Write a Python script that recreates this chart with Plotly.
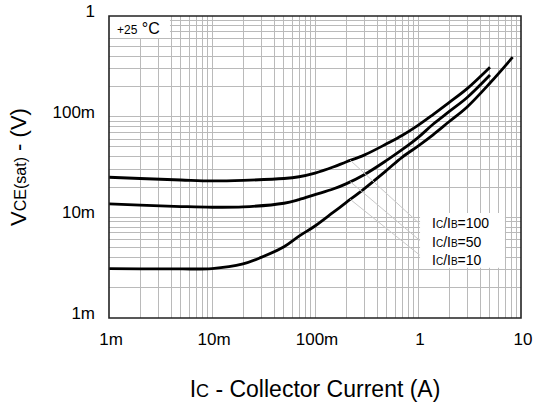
import numpy as np
import plotly.graph_objects as go

# ---- data ----
ic = [1e-3, 2e-3, 5e-3, 1e-2, 2e-2, 5e-2, 7e-2, 0.1, 0.15, 0.2, 0.3, 0.5, 0.7,
      1.0, 1.4, 2.0, 3.0, 5.0]
vce_100 = [25e-3, 24.3e-3, 23.5e-3, 23e-3, 23.3e-3, 24.3e-3, 25.3e-3, 27.5e-3, 31.6e-3,
           35.5e-3, 41.5e-3, 54e-3, 65e-3, 82e-3, 105e-3, 138e-3, 190e-3, 310e-3]
vce_50 = [13.6e-3, 13.2e-3, 12.8e-3, 12.6e-3, 12.7e-3, 13.8e-3, 15e-3, 16.8e-3, 19.1e-3,
          21.5e-3, 26.5e-3, 37e-3, 47e-3, 62e-3, 84e-3, 112e-3, 155e-3, 259e-3]
ic_10 = [1e-3, 2e-3, 5e-3, 1e-2, 2e-2, 3e-2, 5e-2, 7e-2, 0.1, 0.15, 0.2, 0.3, 0.5, 0.7,
         1.0, 1.4, 2.0, 3.0, 5.0, 8.3]
vce_10 = [3.1e-3, 3.08e-3, 3.07e-3, 3.1e-3, 3.45e-3, 4.0e-3, 5.1e-3, 6.5e-3, 8.2e-3, 11.2e-3,
          14e-3, 19.2e-3, 29.5e-3, 39.5e-3, 51e-3, 66e-3, 89e-3, 125e-3, 216e-3, 390e-3]

x_tickvals = [1e-3, 1e-2, 1e-1, 1, 10]
x_ticktext = ["1m", "10m", "100m", "1", "10"]
y_tickvals = [1e-3, 1e-2, 1e-1, 1]
y_ticktext = ["1m", "10m", "100m", "1"]

series_names = ["IC/IB=100", "IC/IB=50", "IC/IB=10"]
label_text = [
    "I<span style='font-size:10px'>C</span>/I<span style='font-size:10px'>B</span>=100",
    "I<span style='font-size:10px'>C</span>/I<span style='font-size:10px'>B</span>=50",
    "I<span style='font-size:10px'>C</span>/I<span style='font-size:10px'>B</span>=10",
]
leader_ic = 0.22  # where leader lines touch the curves

FONT = "Liberation Sans, Arial, Helvetica, sans-serif"

fig = go.Figure()
for xs, ys, nm in [(ic, vce_100, series_names[0]), (ic, vce_50, series_names[1]), (ic_10, vce_10, series_names[2])]:
    fig.add_trace(go.Scatter(x=xs, y=ys, mode="lines", name=nm,
                             line=dict(color="black", width=2.8, shape="spline", smoothing=1.0),
                             showlegend=False))

# minor grid positions (2..9 within each decade)
minor_x = [m * 10.0 ** d for d in range(-3, 1) for m in range(2, 10)]
minor_y = [m * 10.0 ** d for d in range(-3, 0) for m in range(2, 10)]

grid_c = "#bababa"
fig.update_xaxes(type="log", range=[-3, 1], tickmode="array", tickvals=x_tickvals, ticktext=x_ticktext,
                 showgrid=True, gridcolor=grid_c, gridwidth=1, zeroline=False, showline=False,
                 ticks="", ticklabelstandoff=9, ticklabelshift=2,
                 tickfont=dict(family=FONT, size=17, color="black"),
                 minor=dict(tickmode="array", tickvals=minor_x, showgrid=True, gridcolor=grid_c, gridwidth=1, ticks=""),
                 title=dict(text="I<span style='font-size:18px'>C</span> - Collector Current (A)",
                            font=dict(family=FONT, size=23, color="black"), standoff=32))
fig.update_yaxes(type="log", range=[-3, 0], tickmode="array", tickvals=y_tickvals, ticktext=y_ticktext,
                 showgrid=True, gridcolor=grid_c, gridwidth=1, zeroline=False, showline=False,
                 ticks="", ticklabelstandoff=13, ticklabelshift=-5,
                 tickfont=dict(family=FONT, size=17, color="black"),
                 minor=dict(tickmode="array", tickvals=minor_y, showgrid=True, gridcolor=grid_c, gridwidth=1, ticks=""),
                 title=dict(text="V<span style='font-size:16px'>CE(sat)</span> - (V)",
                            font=dict(family=FONT, size=22, color="black"), standoff=19))

shapes = [
    # white box behind temperature note
    dict(type="rect", xref="paper", yref="paper", x0=0.0, x1=0.148, y0=0.927, y1=1.0,
         fillcolor="white", line=dict(width=0), layer="above"),
    # white box behind the curve labels
    dict(type="rect", xref="paper", yref="paper", x0=0.755, x1=0.961, y0=0.166, y1=0.348,
         fillcolor="white", line=dict(width=0), layer="above"),
    # plot frame
    dict(type="rect", xref="paper", yref="paper", x0=0, x1=1, y0=0, y1=1,
         fillcolor="rgba(0,0,0,0)", line=dict(color="#222222", width=1.6), layer="above"),
]

annotations = [
    dict(xref="paper", yref="paper", x=0.014, y=0.957, xanchor="left", yanchor="middle", showarrow=False,
         text="<span style='font-size:12px'>+25</span> °C", font=dict(family=FONT, size=16, color="black")),
]
label_y = [0.315, 0.252, 0.192]
for t, yy in zip(label_text, label_y):
    annotations.append(dict(xref="paper", yref="paper", x=0.779, y=yy, xanchor="left", yanchor="middle",
                            showarrow=False, text=t, font=dict(family=FONT, size=14, color="black")))

# leader lines from the labels to the curves
lx = np.log10(leader_ic)
offsets = [(71, 65), (71, 60), (71, 57)]
for (xs, ys), (ax, ay) in zip([(ic, vce_100), (ic, vce_50), (ic_10, vce_10)], offsets):
    ly = np.interp(lx, np.log10(xs), np.log10(ys))
    annotations.append(dict(x=lx, y=float(ly), xref="x", yref="y", text="", showarrow=True,
                            arrowhead=0, arrowwidth=1, arrowcolor="#c8c8c8", ax=ax, ay=ay, standoff=0))

fig.update_layout(width=533, height=405, margin=dict(l=109, r=12, t=16, b=87, autoexpand=False),
                  paper_bgcolor="white", plot_bgcolor="white", shapes=shapes, annotations=annotations,
                  font=dict(family=FONT, color="black"), hovermode=False)

fig.write_html("out.html", config={"displayModeBar": False, "staticPlot": True},
               post_script="document.body.style.margin='0';document.body.style.overflow='hidden';")
